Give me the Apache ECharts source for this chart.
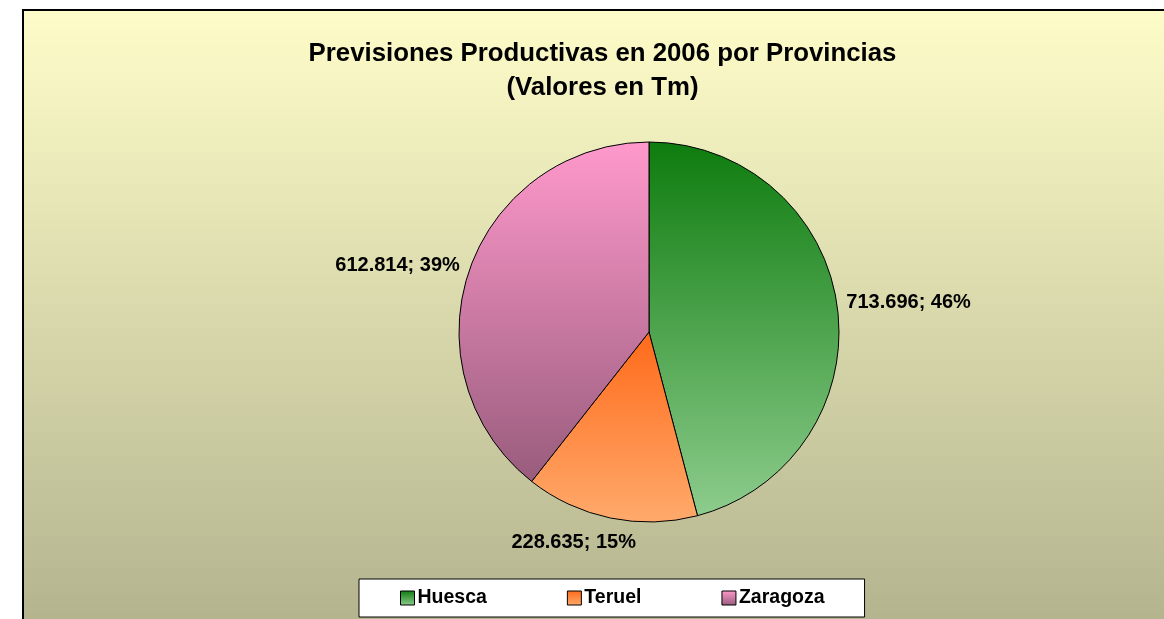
<!DOCTYPE html>
<html>
<head>
<meta charset="utf-8">
<script src="https://cdn.jsdelivr.net/npm/echarts@6/dist/echarts.min.js"></script>
<style>
  html, body { margin: 0; padding: 0; background: #ffffff; }
  #chart { width: 1164px; height: 619px; }
</style>
</head>
<body>
<div id="chart"></div>
<script>
// Production forecast 2006 by province (tonnes)
const provinces = ['Huesca', 'Teruel', 'Zaragoza'];
const tonnes = [713696, 228635, 612814];

// top / bottom colours of each slice's vertical gradient
const sliceTop = ['#0e7c0e', '#ff6a1a', '#ff99cc'];
const sliceBottom = ['#8dcc8d', '#ffaa6c', '#985c7c'];

// nudges applied to the outside value labels, per slice
const labelNudge = [[-4, -4], [32, 17], [3, -2]];

const FONT = '"Liberation Sans", Arial, sans-serif';

function grad(top, bottom) {
  return new echarts.graphic.LinearGradient(0, 0, 0, 1, [
    { offset: 0, color: top },
    { offset: 1, color: bottom }
  ]);
}

const total = tonnes.reduce((a, b) => a + b, 0);
const fmtThousands = v => String(v).replace(/\B(?=(\d{3})+(?!\d))/g, '.');

const chart = echarts.init(document.getElementById('chart'), null, { renderer: 'canvas' });

chart.setOption({
  animation: false,
  graphic: [{
    type: 'rect',
    z: -10,
    silent: true,
    shape: { x: 23, y: 10, width: 1180, height: 640 },
    style: {
      fill: new echarts.graphic.LinearGradient(0, 0, 0, 1, [
        { offset: 0, color: '#fefdc9' },
        { offset: 1, color: '#b0b08c' }
      ]),
      stroke: '#000000',
      lineWidth: 2
    }
  }],
  title: {
    text: 'Previsiones Productivas en 2006 por Provincias\n(Valores en Tm)',
    left: 602.5,
    textAlign: 'center',
    top: 37,
    padding: 0,
    textStyle: {
      fontFamily: FONT,
      fontSize: 25.8,
      fontWeight: 'bold',
      color: '#000000',
      lineHeight: 34
    }
  },
  legend: {
    data: provinces,
    left: 359,
    top: 579,
    orient: 'horizontal',
    icon: 'rect',
    itemWidth: 14,
    itemHeight: 14,
    itemGap: 80,
    padding: [9, 40, 9, 41],
    backgroundColor: '#ffffff',
    borderColor: '#000000',
    borderWidth: 1,
    itemStyle: { borderColor: '#000000', borderWidth: 1 },
    textStyle: {
      fontFamily: FONT,
      fontSize: 19.5,
      fontWeight: 'bold',
      color: '#000000',
      padding: [0, 0, 0, -2]
    }
  },
  series: [{
    type: 'pie',
    center: [649, 332],
    radius: 190,
    startAngle: 90,
    clockwise: true,
    avoidLabelOverlap: false,
    itemStyle: { borderColor: '#000000', borderWidth: 1 },
    label: {
      show: true,
      position: 'outside',
      fontFamily: FONT,
      fontSize: 20,
      fontWeight: 'bold',
      color: '#000000',
      formatter: p => fmtThousands(p.value) + '; ' + Math.round(p.value / total * 100) + '%'
    },
    labelLine: { show: false, length: 8, length2: 0 },
    labelLayout: p => ({ dx: labelNudge[p.dataIndex][0], dy: labelNudge[p.dataIndex][1] }),
    emphasis: { disabled: true },
    data: provinces.map((name, i) => ({
      name,
      value: tonnes[i],
      itemStyle: { color: grad(sliceTop[i], sliceBottom[i]) }
    }))
  }]
});
</script>
</body>
</html>
